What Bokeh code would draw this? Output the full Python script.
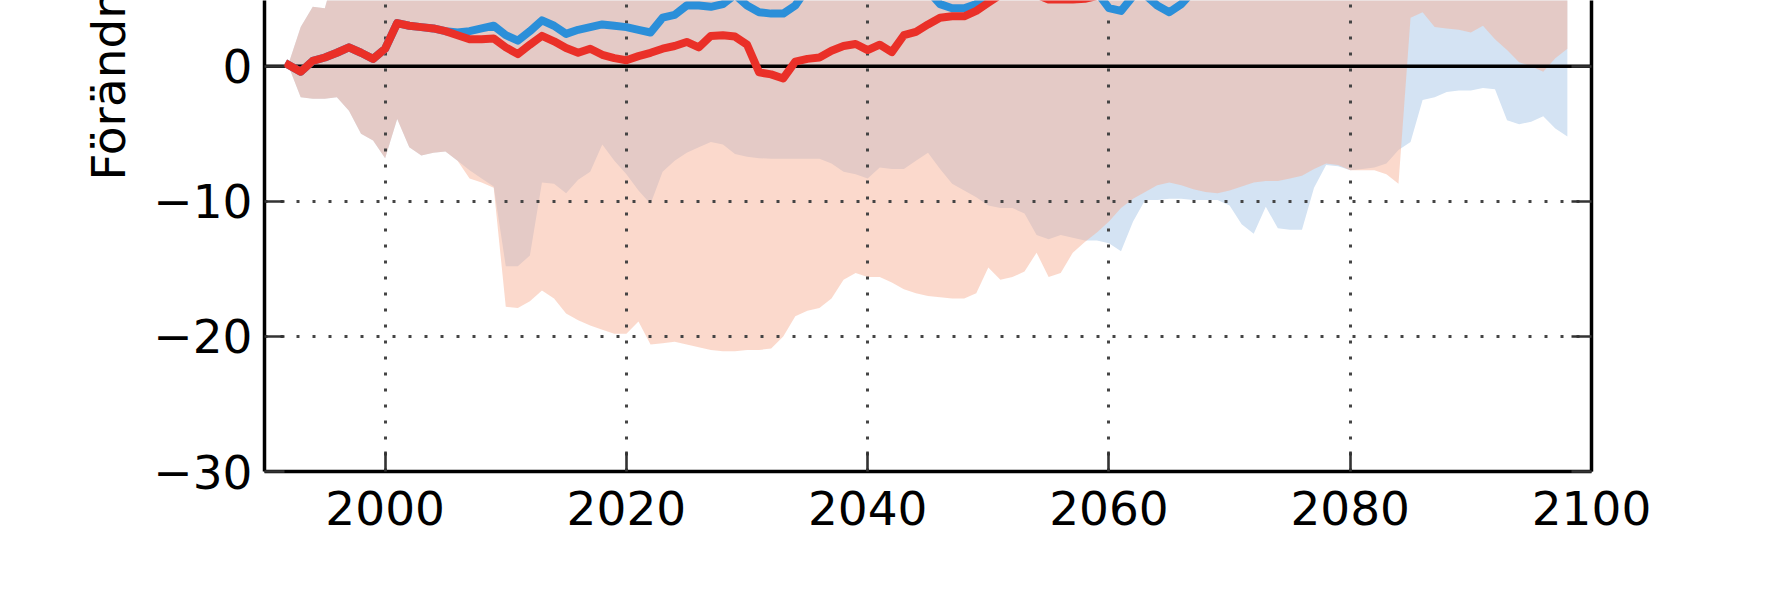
from bokeh.plotting import figure
from bokeh.models import ColumnDataSource, FixedTicker, LinearAxis, Span, Title
from bokeh.embed import file_html
from bokeh.resources import INLINE

# ---------------- data ----------------
years = list(range(1992, 2099))

red_line = [
    0.1, -0.4, 0.4, 0.65, 1.0, 1.4, 1.0, 0.55,
    1.3, 3.2, 3.0, 2.9, 2.8, 2.6, 2.3, 2.0, 2.0, 2.05,
    1.4, 0.9, 1.6, 2.25, 1.85, 1.35, 1.0, 1.3, 0.85, 0.6,
    0.45, 0.75, 1.0, 1.3, 1.5, 1.8, 1.4, 2.25, 2.3, 2.2,
    1.6, -0.45, -0.6, -0.9, 0.35, 0.55, 0.65, 1.15, 1.5, 1.65,
    1.2, 1.6, 1.05, 2.3, 2.55, 3.1, 3.6, 3.7, 3.7, 4.1,
    4.7, 5.3, 5.7, 5.6, 5.3, 4.95, 4.95, 4.95, 5.0, 5.2,
    5.9, 6.4, 6.1, 6.8, 7.2, 7.0, 7.6, 7.9, 7.5, 8.2,
    8.6, 8.3, 9.0, 9.4, 9.1, 9.8, 10.2, 9.9, 10.6, 11.0,
    10.7, 11.3, 11.8, 11.5, 12.1, 12.6, 12.3, 12.9, 13.4, 13.1,
    13.7, 14.2, 13.9, 14.5, 15.0, 14.7, 15.3, 15.8, 15.5,
]

blue_line = [
    0.1, -0.4, 0.4, 0.65, 1.0, 1.4, 1.0, 0.55,
    1.3, 3.2, 3.0, 2.9, 2.8, 2.6, 2.5, 2.6, 2.8, 3.0,
    2.3, 1.9, 2.6, 3.4, 3.0, 2.4, 2.7, 2.9, 3.1, 3.0,
    2.9, 2.7, 2.5, 3.6, 3.8, 4.5, 4.5, 4.4, 4.6, 5.3,
    4.5, 4.0, 3.9, 3.9, 4.5, 5.8, 6.4, 6.9, 6.6, 7.2,
    6.8, 7.3, 7.0, 6.5, 6.1, 5.6, 4.6, 4.3, 4.3, 4.6,
    5.6, 6.2, 6.6, 6.3, 6.9, 6.5, 6.1, 5.9, 5.7, 5.5,
    4.3, 4.1, 5.2, 5.3, 4.5, 4.0, 4.6, 5.6, 6.1, 6.4,
    6.2, 6.8, 7.1, 6.7, 7.3, 7.6, 7.2, 7.8, 8.1, 7.7,
    8.3, 8.0, 8.6, 8.4, 8.9, 8.6, 9.1, 8.8, 9.3, 9.0,
    9.5, 9.2, 9.7, 9.4, 9.9, 9.6, 10.1, 9.8, 10.2,
]

red_lo = [
    0.0, -2.3, -2.4, -2.4, -2.3, -3.3, -5.0, -5.5,
    -6.8, -3.9, -6.0, -6.6, -6.4, -6.3, -7.0, -8.3, -8.6, -9.0,
    -17.8, -17.9, -17.4, -16.6, -17.2, -18.3, -18.8, -19.2, -19.5, -19.8,
    -19.8, -18.9, -20.6, -20.5, -20.4, -20.6, -20.8, -21.0, -21.1, -21.1,
    -21.0, -21.0, -20.9, -20.0, -18.5, -18.1, -17.9, -17.2, -15.8, -15.3,
    -15.6, -15.6, -16.0, -16.5, -16.8, -17.0, -17.1, -17.2, -17.2, -16.8,
    -14.9, -15.8, -15.6, -15.2, -13.8, -15.6, -15.3, -13.8, -13.0, -12.3,
    -11.5, -10.5, -9.8, -9.3, -8.8, -8.6, -8.8, -9.1, -9.3, -9.4,
    -9.2, -8.9, -8.6, -8.5, -8.5, -8.3, -8.1, -7.6, -7.2, -7.3,
    -7.7, -7.7, -7.7, -8.0, -8.7, 3.6, 4.0, 2.9, 2.8, 2.7,
    2.5, 3.0, 2.0, 1.2, 0.3, 0.0, -0.4, 0.6, 1.3,
]

blue_lo = [
    0.0, -2.3, -2.4, -2.4, -2.3, -3.3, -5.0, -5.5,
    -6.8, -3.9, -6.0, -6.6, -6.4, -6.3, -7.0, -7.7, -8.3, -8.9,
    -14.8, -14.8, -14.0, -8.6, -8.7, -9.4, -8.4, -7.8, -5.8, -7.0,
    -8.0, -9.2, -10.2, -7.8, -7.0, -6.4, -6.0, -5.6, -5.8, -6.5,
    -6.7, -6.8, -6.85, -6.85, -6.85, -6.85, -6.85, -7.2, -7.8, -8.0,
    -8.3, -7.5, -7.6, -7.6, -7.0, -6.4, -7.6, -8.7, -9.2, -9.7,
    -10.3, -10.5, -10.5, -10.9, -12.5, -12.8, -12.5, -12.7, -12.9, -12.9,
    -13.1, -13.7, -11.5, -9.9, -9.9, -9.8, -9.8, -9.9, -9.9, -9.9,
    -10.3, -11.7, -12.4, -10.4, -12.0, -12.1, -12.1, -9.0, -7.3, -7.4,
    -7.7, -7.6, -7.5, -7.2, -6.2, -5.6, -2.5, -2.3, -1.9, -1.8,
    -1.8, -1.6, -1.7, -4.0, -4.3, -4.1, -3.7, -4.6, -5.2,
]

red_hi = [
    0.2, 2.9, 4.4, 4.3, 7.5, 8.2, 8.0, 8.6,
    9.1, 10.4, 10.2, 9.8, 10.0, 9.6, 9.9, 10.3, 10.1, 10.6,
    10.2, 9.7, 10.5, 11.0, 10.8, 10.4, 10.9, 11.3, 11.0, 11.5,
    11.2, 11.8, 12.1, 12.6, 12.4, 13.0, 12.8, 13.5, 13.9, 13.6,
    13.2, 12.5, 12.9, 13.4, 13.8, 14.3, 14.0, 14.6, 15.1, 14.8,
    15.3, 15.7, 15.2, 16.0, 16.4, 16.9, 17.3, 17.0, 17.6, 18.1,
    18.6, 18.2, 18.9, 19.4, 19.1, 19.8, 20.3, 20.0, 20.6, 21.2,
    21.7, 21.3, 22.0, 22.6, 22.2, 22.9, 23.5, 23.1, 23.8, 24.4,
    24.0, 24.7, 25.3, 25.0, 25.6, 26.2, 25.8, 26.5, 27.1, 26.7,
    27.4, 28.0, 27.6, 28.3, 28.9, 29.5, 29.1, 29.8, 30.4, 30.0,
    30.7, 31.3, 30.9, 31.6, 32.2, 31.8, 32.5, 33.1, 32.7,
]

blue_hi = [
    0.2, 2.9, 4.4, 4.3, 7.5, 8.2, 8.0, 8.6,
    9.1, 10.4, 10.2, 9.8, 10.0, 9.6, 9.7, 10.0, 10.4, 10.9,
    10.5, 10.1, 10.8, 11.3, 11.0, 10.7, 11.2, 11.6, 11.4, 11.8,
    12.1, 11.7, 12.3, 12.8, 12.5, 13.1, 13.4, 13.0, 13.6, 14.0,
    13.7, 13.3, 13.8, 14.2, 14.6, 14.3, 14.8, 15.2, 14.9, 15.4,
    15.0, 15.5, 15.9, 15.6, 16.1, 15.7, 15.3, 15.8, 16.2, 16.0,
    16.5, 16.9, 16.6, 17.1, 16.7, 17.2, 17.6, 17.3, 17.8, 17.4,
    17.0, 17.5, 17.9, 17.6, 18.0, 17.7, 18.2, 18.6, 18.3, 18.7,
    18.4, 18.9, 19.3, 19.0, 19.4, 19.1, 19.6, 20.0, 19.7, 20.1,
    19.8, 20.2, 20.6, 20.3, 20.7, 20.4, 20.9, 21.3, 21.0, 21.4,
    21.1, 21.5, 21.9, 21.6, 22.0, 21.7, 22.2, 22.6, 22.3,
]

x_ticks = [2000, 2020, 2040, 2060, 2080, 2100]
y_ticks = [-30, -20, -10, 0, 10]
y_tick_labels = {-30: "\u221230", -20: "\u221220", -10: "\u221210", 0: "0", 10: "10"}
y_label = "Förändring (%)"

src = ColumnDataSource(dict(year=years, red_line=red_line, blue_line=blue_line,
                            red_lo=red_lo, red_hi=red_hi, blue_lo=blue_lo, blue_hi=blue_hi))

# ---------------- figure ----------------
FONT = "DejaVu Sans"
FS = "47px"

p = figure(width=1771, height=591, x_range=(1990, 2100), y_range=(-30, 4.87),
           output_backend="svg", toolbar_location=None,
           min_border_left=264, min_border_right=180, min_border_top=0, min_border_bottom=120)
p.outline_line_color = None
p.background_fill_color = "white"
p.border_fill_color = "white"

# bands (blue first, red on top, semi-transparent)
rb = p.varea(x="year", y1="blue_lo", y2="blue_hi", source=src, fill_color="#d4e3f3", fill_alpha=1.0)
rr = p.varea(x="year", y1="red_lo", y2="red_hi", source=src, fill_color="#f7ae93", fill_alpha=0.47)
rb.level = "image"
rr.level = "image"

# grid
for g in (p.xgrid[0], p.ygrid[0]):
    g.grid_line_color = "#444444"
    g.grid_line_width = 3
    g.grid_line_dash = "3 13"
    g.level = "underlay"
p.xgrid[0].ticker = FixedTicker(ticks=x_ticks)
p.ygrid[0].ticker = FixedTicker(ticks=y_ticks)

# zero line
p.add_layout(Span(location=0, dimension="width", line_color="black", line_width=3.5, level="underlay"))

# lines
p.line(x="year", y="blue_line", source=src, line_color="#2b8fd9", line_width=8,
       line_join="round", line_cap="square")
p.line(x="year", y="red_line", source=src, line_color="#ea3028", line_width=8,
       line_join="round", line_cap="square")

# axes
def style_axis(ax):
    ax.axis_line_color = "black"
    ax.axis_line_width = 3.5
    ax.major_tick_in = 20
    ax.major_tick_out = 0
    ax.major_tick_line_color = "#333333"
    ax.major_tick_line_width = 2.6
    ax.minor_tick_line_color = None
    ax.major_label_text_font = FONT
    ax.major_label_text_font_size = FS
    ax.major_label_text_color = "black"

xa = p.xaxis[0]
style_axis(xa)
xa.ticker = FixedTicker(ticks=x_ticks)
xa.major_label_standoff = 19

ya = p.yaxis[0]
style_axis(ya)
ya.ticker = FixedTicker(ticks=y_ticks)
ya.major_label_overrides = y_tick_labels
ya.major_label_standoff = 12

ra = LinearAxis(ticker=FixedTicker(ticks=y_ticks))
style_axis(ra)
ra.major_label_text_color = None
ra.major_label_standoff = 0
p.add_layout(ra, "right")

# y-axis label (cropped at top, as in the reference)
ttl = Title(text=y_label, align="left", offset=291, vertical_align="middle",
            text_font=FONT, text_font_size=FS, text_font_style="normal",
            text_color="black", standoff=28)
p.add_layout(ttl, "left")

open("out.html", "w").write(file_html(p, INLINE))
